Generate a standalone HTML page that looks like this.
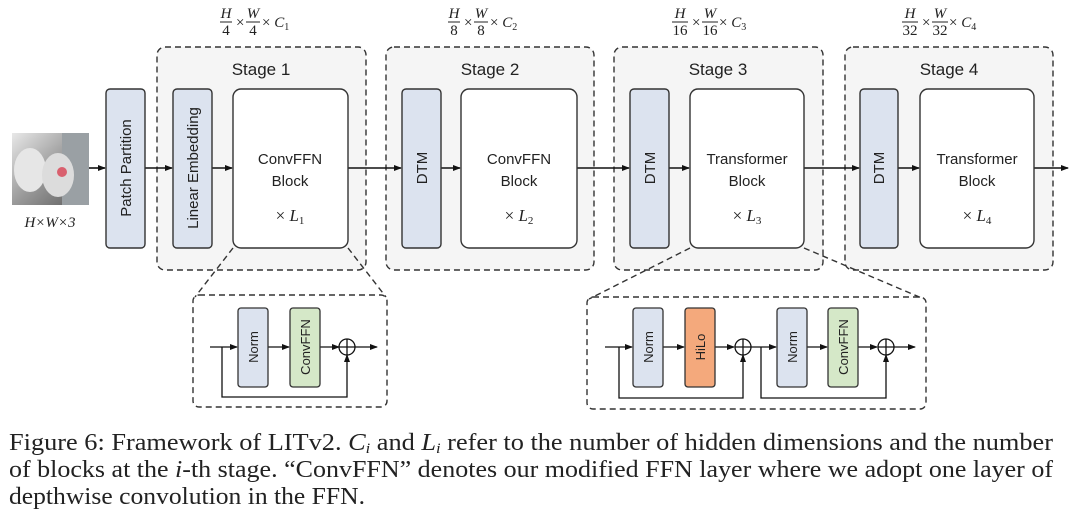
<!DOCTYPE html>
<html><head><meta charset="utf-8"><style>
body{margin:0;background:#fff;}
svg{display:block;}
.s{font-family:"Liberation Sans",sans-serif;fill:#222;}
.m{font-family:"Liberation Serif",serif;fill:#222;}
</style></head><body>
<svg width="1080" height="523" viewBox="0 0 1080 523" xmlns="http://www.w3.org/2000/svg">
<defs>
<marker id="a" markerWidth="8" markerHeight="8" refX="7" refY="4" orient="auto" markerUnits="userSpaceOnUse"><path d="M0,1 L8,4 L0,7 z" fill="#111"/></marker>
<linearGradient id="dog" x1="0" y1="0" x2="1" y2="1"><stop offset="0" stop-color="#e8e8e8"/><stop offset="0.5" stop-color="#9a9a9a"/><stop offset="1" stop-color="#5a5a5a"/></linearGradient>
</defs>
<g fill="#f5f5f5" stroke="#333" stroke-width="1.4" stroke-dasharray="6,4">
<rect x="157" y="47" width="209" height="223" rx="8"/>
<rect x="386" y="47" width="208" height="223" rx="8"/>
<rect x="614" y="47" width="209" height="223" rx="8"/>
<rect x="845" y="47" width="208" height="223" rx="8"/>
</g>
<g class="s" font-size="17" text-anchor="middle">
<text x="261" y="75">Stage 1</text><text x="490" y="75">Stage 2</text><text x="718" y="75">Stage 3</text><text x="949" y="75">Stage 4</text>
</g>
<g class="m" font-size="15" font-style="italic">
<g transform="translate(220,0)"><text x="6" y="18" text-anchor="middle">H</text><line x1="0" y1="22" x2="12" y2="22" stroke="#222"/><text x="6" y="35" text-anchor="middle" font-style="normal">4</text><text x="16" y="27" font-style="normal">×</text><text x="33" y="18" text-anchor="middle">W</text><line x1="26" y1="22" x2="40" y2="22" stroke="#222"/><text x="33" y="35" text-anchor="middle" font-style="normal">4</text><text x="42" y="27"><tspan font-style="normal">× </tspan>C<tspan font-size="10" dy="3" font-style="normal">1</tspan></text></g>
<g transform="translate(448,0)"><text x="6" y="18" text-anchor="middle">H</text><line x1="0" y1="22" x2="12" y2="22" stroke="#222"/><text x="6" y="35" text-anchor="middle" font-style="normal">8</text><text x="16" y="27" font-style="normal">×</text><text x="33" y="18" text-anchor="middle">W</text><line x1="26" y1="22" x2="40" y2="22" stroke="#222"/><text x="33" y="35" text-anchor="middle" font-style="normal">8</text><text x="42" y="27"><tspan font-style="normal">× </tspan>C<tspan font-size="10" dy="3" font-style="normal">2</tspan></text></g>
<g transform="translate(672,0)"><text x="8" y="18" text-anchor="middle">H</text><line x1="0" y1="22" x2="16" y2="22" stroke="#222"/><text x="8" y="35" text-anchor="middle" font-style="normal">16</text><text x="20" y="27" font-style="normal">×</text><text x="38" y="18" text-anchor="middle">W</text><line x1="30" y1="22" x2="46" y2="22" stroke="#222"/><text x="38" y="35" text-anchor="middle" font-style="normal">16</text><text x="47" y="27"><tspan font-style="normal">× </tspan>C<tspan font-size="10" dy="3" font-style="normal">3</tspan></text></g>
<g transform="translate(902,0)"><text x="8" y="18" text-anchor="middle">H</text><line x1="0" y1="22" x2="16" y2="22" stroke="#222"/><text x="8" y="35" text-anchor="middle" font-style="normal">32</text><text x="20" y="27" font-style="normal">×</text><text x="38" y="18" text-anchor="middle">W</text><line x1="30" y1="22" x2="46" y2="22" stroke="#222"/><text x="38" y="35" text-anchor="middle" font-style="normal">32</text><text x="47" y="27"><tspan font-style="normal">× </tspan>C<tspan font-size="10" dy="3" font-style="normal">4</tspan></text></g>
</g>
<rect x="12" y="133" width="77" height="72" fill="url(#dog)"/>
<rect x="62" y="133" width="27" height="72" fill="#9aa0a4"/>
<ellipse cx="30" cy="170" rx="16" ry="22" fill="#e6e6e6"/>
<ellipse cx="58" cy="175" rx="16" ry="22" fill="#dcdcdc"/>
<circle cx="62" cy="172" r="5" fill="#d9606e"/>
<text x="50" y="227" class="m" font-size="15" font-style="italic" text-anchor="middle">H×W×3</text>
<g stroke="#111" stroke-width="1.6" fill="none" marker-end="url(#a)">
<line x1="89" y1="168" x2="105" y2="168"/>
<line x1="145" y1="168" x2="172" y2="168"/>
<line x1="212" y1="168" x2="232" y2="168"/>
<line x1="348" y1="168" x2="401" y2="168"/>
<line x1="441" y1="168" x2="460" y2="168"/>
<line x1="577" y1="168" x2="629" y2="168"/>
<line x1="669" y1="168" x2="689" y2="168"/>
<line x1="804" y1="168" x2="859" y2="168"/>
<line x1="898" y1="168" x2="919" y2="168"/>
<line x1="1034" y1="168" x2="1068" y2="168"/>
</g>
<g fill="#dce3ef" stroke="#333" stroke-width="1.4">
<rect x="106" y="89" width="39" height="159" rx="4"/>
<rect x="173" y="89" width="39" height="159" rx="4"/>
<rect x="402" y="89" width="39" height="159" rx="4"/>
<rect x="630" y="89" width="39" height="159" rx="4"/>
<rect x="860" y="89" width="38" height="159" rx="4"/>
</g>
<g fill="#fff" stroke="#333" stroke-width="1.4">
<rect x="233" y="89" width="115" height="159" rx="8"/>
<rect x="461" y="89" width="116" height="159" rx="8"/>
<rect x="690" y="89" width="114" height="159" rx="8"/>
<rect x="920" y="89" width="114" height="159" rx="8"/>
</g>
<g class="s" font-size="15" text-anchor="middle">
<text transform="translate(131,168) rotate(-90)">Patch Partition</text>
<text transform="translate(198,168) rotate(-90)">Linear Embedding</text>
<text transform="translate(427,168) rotate(-90)">DTM</text>
<text transform="translate(655,168) rotate(-90)">DTM</text>
<text transform="translate(884,168) rotate(-90)">DTM</text>
<text x="290" y="164">ConvFFN</text><text x="290" y="186">Block</text>
<text x="519" y="164">ConvFFN</text><text x="519" y="186">Block</text>
<text x="747" y="164">Transformer</text><text x="747" y="186">Block</text>
<text x="977" y="164">Transformer</text><text x="977" y="186">Block</text>
</g>
<g class="m" font-size="17" text-anchor="middle">
<text x="290" y="221">× <tspan font-style="italic">L</tspan><tspan font-size="11" dy="3">1</tspan></text>
<text x="519" y="221">× <tspan font-style="italic">L</tspan><tspan font-size="11" dy="3">2</tspan></text>
<text x="747" y="221">× <tspan font-style="italic">L</tspan><tspan font-size="11" dy="3">3</tspan></text>
<text x="977" y="221">× <tspan font-style="italic">L</tspan><tspan font-size="11" dy="3">4</tspan></text>
</g>
<g stroke="#333" stroke-width="1.4" stroke-dasharray="6,4" fill="none">
<path d="M233,248 L195,297"/><path d="M348,248 L386,297"/>
<path d="M690,248 L589,299"/><path d="M804,248 L924,299"/>
<rect x="193" y="295" width="194" height="112" rx="6"/>
<rect x="587" y="297" width="339" height="112" rx="6"/>
</g>
<g stroke="#111" stroke-width="1.3" fill="none">
<line x1="210" y1="347" x2="237" y2="347" marker-end="url(#a)"/>
<line x1="268" y1="347" x2="289" y2="347" marker-end="url(#a)"/>
<line x1="320" y1="347" x2="339" y2="347" marker-end="url(#a)"/>
<line x1="355" y1="347" x2="377" y2="347" marker-end="url(#a)"/>
<path d="M222,347 V397 H347 V355" marker-end="url(#a)"/>
<circle cx="347" cy="347" r="8"/><path d="M339,347 H355 M347,339 V355"/>
<line x1="605" y1="347" x2="632" y2="347" marker-end="url(#a)"/>
<line x1="663" y1="347" x2="684" y2="347" marker-end="url(#a)"/>
<line x1="715" y1="347" x2="734" y2="347" marker-end="url(#a)"/>
<line x1="751" y1="347" x2="776" y2="347" marker-end="url(#a)"/>
<line x1="807" y1="347" x2="827" y2="347" marker-end="url(#a)"/>
<line x1="858" y1="347" x2="877" y2="347" marker-end="url(#a)"/>
<line x1="894" y1="347" x2="915" y2="347" marker-end="url(#a)"/>
<path d="M619,347 V398 H743 V355" marker-end="url(#a)"/>
<path d="M761,347 V398 H886 V355" marker-end="url(#a)"/>
<circle cx="743" cy="347" r="8"/><path d="M735,347 H751 M743,339 V355"/>
<circle cx="886" cy="347" r="8"/><path d="M878,347 H894 M886,339 V355"/>
</g>
<g stroke="#333" stroke-width="1.3">
<rect x="238" y="308" width="30" height="79" rx="3" fill="#dce3ef"/>
<rect x="290" y="308" width="30" height="79" rx="3" fill="#d5e8c8"/>
<rect x="633" y="308" width="30" height="79" rx="3" fill="#dce3ef"/>
<rect x="685" y="308" width="30" height="79" rx="3" fill="#f4a97c"/>
<rect x="777" y="308" width="30" height="79" rx="3" fill="#dce3ef"/>
<rect x="828" y="308" width="30" height="79" rx="3" fill="#d5e8c8"/>
</g>
<g class="s" font-size="13" text-anchor="middle">
<text transform="translate(258,347) rotate(-90)">Norm</text>
<text transform="translate(310,347) rotate(-90)">ConvFFN</text>
<text transform="translate(653,347) rotate(-90)">Norm</text>
<text transform="translate(705,347) rotate(-90)">HiLo</text>
<text transform="translate(797,347) rotate(-90)">Norm</text>
<text transform="translate(848,347) rotate(-90)">ConvFFN</text>
</g>
<g class="m" font-size="24" fill="#111">
<text x="9" y="450" textLength="1044" lengthAdjust="spacingAndGlyphs">Figure 6: Framework of LITv2. <tspan font-style="italic">C<tspan font-size="15" dy="3">i</tspan></tspan><tspan dy="-3"> and </tspan><tspan font-style="italic">L<tspan font-size="15" dy="3">i</tspan></tspan><tspan dy="-3"> refer to the number of hidden dimensions and the number</tspan></text>
<text x="9" y="477" textLength="1044" lengthAdjust="spacingAndGlyphs">of blocks at the <tspan font-style="italic">i</tspan>-th stage. “ConvFFN” denotes our modified FFN layer where we adopt one layer of</text>
<text x="9" y="504" textLength="356" lengthAdjust="spacingAndGlyphs">depthwise convolution in the FFN.</text>
</g>
</svg>
</body></html>
